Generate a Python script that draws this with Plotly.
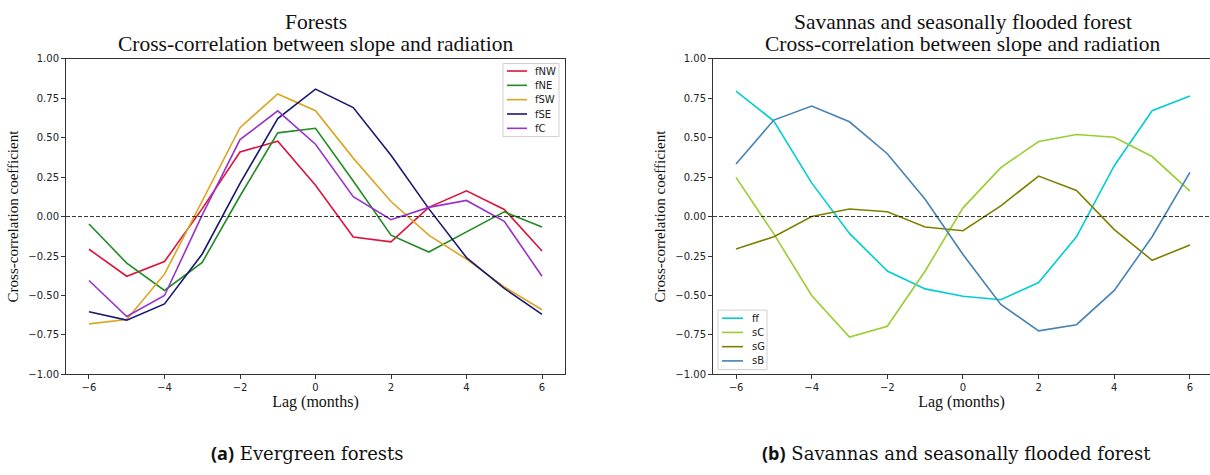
import plotly.graph_objects as go

lags = [-6, -5, -4, -3, -2, -1, 0, 1, 2, 3, 4, 5, 6]

# Forests
fNW = [-0.207, -0.378, -0.285, 0.05, 0.409, 0.477, 0.198, -0.13, -0.16, 0.058, 0.163, 0.045, -0.218]
fNE = [-0.047, -0.295, -0.468, -0.29, 0.13, 0.53, 0.559, 0.225, -0.118, -0.225, -0.097, 0.03, -0.066]
fSW = [-0.68, -0.652, -0.365, 0.1, 0.563, 0.776, 0.67, 0.37, 0.095, -0.118, -0.27, -0.445, -0.59]
fSE = [-0.603, -0.656, -0.553, -0.237, 0.21, 0.62, 0.807, 0.69, 0.388, 0.05, -0.26, -0.455, -0.62]
fC = [-0.405, -0.633, -0.5, 0.01, 0.487, 0.669, 0.458, 0.126, -0.02, 0.058, 0.102, -0.03, -0.378]

# Savannas and seasonally flooded forest
ff = [0.795, 0.605, 0.213, -0.107, -0.345, -0.458, -0.505, -0.527, -0.418, -0.128, 0.322, 0.67, 0.763]
sC = [0.248, -0.11, -0.5, -0.763, -0.695, -0.345, 0.055, 0.31, 0.475, 0.52, 0.502, 0.38, 0.161]
sG = [-0.206, -0.128, 0.0, 0.048, 0.03, -0.066, -0.09, 0.068, 0.256, 0.165, -0.083, -0.277, -0.18]
sB = [0.333, 0.611, 0.7, 0.6, 0.398, 0.11, -0.24, -0.557, -0.724, -0.685, -0.468, -0.128, 0.28]

left_names = ["fNW", "fNE", "fSW", "fSE", "fC"]
left_values = [fNW, fNE, fSW, fSE, fC]
left_colors = ["#DC143C", "#228B22", "#DAA520", "#191970", "#9932CC"]
right_names = ["ff", "sC", "sG", "sB"]
right_values = [ff, sC, sG, sB]
right_colors = ["#00CED1", "#9ACD32", "#808000", "#4682B4"]

yticks = [-1.0, -0.75, -0.5, -0.25, 0.0, 0.25, 0.5, 0.75, 1.0]
ytick_text = ["\u22121.00", "\u22120.75", "\u22120.50", "\u22120.25", "0.00", "0.25", "0.50", "0.75", "1.00"]
xticks = [-6, -4, -2, 0, 2, 4, 6]
xtick_text = ["\u22126", "\u22124", "\u22122", "0", "2", "4", "6"]

W, H = 1210, 475
fig = go.Figure()

for name, vals, col in zip(left_names, left_values, left_colors):
    fig.add_trace(go.Scatter(x=lags, y=vals, mode="lines", name=name, showlegend=False,
                             line=dict(color=col, width=1.6), xaxis="x", yaxis="y"))
for name, vals, col in zip(right_names, right_values, right_colors):
    fig.add_trace(go.Scatter(x=lags, y=vals, mode="lines", name=name, showlegend=False,
                             line=dict(color=col, width=1.6), xaxis="x2", yaxis="y2"))

ydom = [(H - 378) / H, (H - 54) / H]
serif = "Liberation Serif, Times New Roman, serif"
sans = "DejaVu Sans, sans-serif"

common_x = dict(showline=True, linecolor="#333", linewidth=1, ticks="outside", ticklen=4,
                tickcolor="#333", tickvals=xticks, ticktext=xtick_text, showgrid=False, zeroline=False,
                tickfont=dict(family=sans, size=10, color="#222"),
                title=dict(text="Lag (months)", font=dict(family=serif, size=16, color="#111"), standoff=3))
common_y = dict(showline=True, linecolor="#333", linewidth=1, ticks="outside", ticklen=4,
                tickcolor="#333", tickvals=yticks, ticktext=ytick_text, range=[-1, 1], showgrid=False,
                zeroline=False, tickfont=dict(family=sans, size=10, color="#222"),
                title=dict(text="Cross-correlation coefficient", font=dict(family=serif, size=15, color="#111"),
                           standoff=6))

fig.update_layout(
    width=W, height=H, margin=dict(l=0, r=0, t=0, b=0),
    paper_bgcolor="white", plot_bgcolor="white",
    xaxis=dict(domain=[66 / W, 565 / W], range=[-6.609, 6.609], mirror=True, anchor="y", **common_x),
    yaxis=dict(domain=ydom, anchor="x", mirror=True, **common_y),
    xaxis2=dict(domain=[713 / W, 1.0], range=[-6.608, 6.53], mirror=True, anchor="y2", **common_x),
    yaxis2=dict(domain=ydom, anchor="x2", mirror=False, **common_y),
    showlegend=False,
)

# Dashed zero lines
for xr, yr in [("x domain", "y"), ("x2 domain", "y2")]:
    fig.add_shape(type="line", xref=xr, yref=yr, x0=0, x1=1, y0=0, y1=0,
                  line=dict(color="black", width=0.8, dash="4px,2px"))


def px_x(v):
    return v / W


def px_y(v):
    return 1 - v / H


# Manual legends (matplotlib-style compact boxes)
def add_legend(names, colors, box, line_x, text_x, y0, step):
    fig.add_shape(type="rect", xref="paper", yref="paper",
                  x0=px_x(box[0]), x1=px_x(box[1]), y0=px_y(box[2]), y1=px_y(box[3]),
                  line=dict(color="#d0d0d0", width=1), fillcolor="rgba(255,255,255,0.85)", layer="above")
    for i, (n, c) in enumerate(zip(names, colors)):
        yy = y0 + i * step
        fig.add_shape(type="line", xref="paper", yref="paper",
                      x0=px_x(line_x[0]), x1=px_x(line_x[1]), y0=px_y(yy), y1=px_y(yy),
                      line=dict(color=c, width=1.6), layer="above")
        fig.add_annotation(x=px_x(text_x), y=px_y(yy), xref="paper", yref="paper", showarrow=False,
                           text=n, xanchor="left", yanchor="middle",
                           font=dict(family=sans, size=10, color="#222"))


add_legend(left_names, left_colors, (503, 559, 59, 134), (507, 527), 533, 66.7, 14.7)
add_legend(right_names, right_colors, (718, 767, 312, 373), (722, 743), 750, 320.3, 14.6)

# Titles
title_font = dict(family=serif, size=21.5, color="#111")
for cx, l1, l2 in [((66 + 565) / 2, "Forests", "Cross-correlation between slope and radiation"),
                   ((713 + 1213) / 2, "Savannas and seasonally flooded forest",
                    "Cross-correlation between slope and radiation")]:
    fig.add_annotation(x=px_x(cx), y=px_y(16), xref="paper", yref="paper", showarrow=False,
                       text=l1, font=title_font, xanchor="center", yanchor="middle")
    fig.add_annotation(x=px_x(cx), y=px_y(38.5), xref="paper", yref="paper", showarrow=False,
                       text=l2, font=title_font, xanchor="center", yanchor="middle")

# Captions
cap_font = dict(family="DejaVu Serif, serif", size=18, color="#111")
fig.add_annotation(x=px_x(307), y=px_y(459), xref="paper", yref="paper", showarrow=False,
                   text="<b><span style='font-family:Open Sans, sans-serif'>(a)</span></b> Evergreen forests",
                   font=cap_font, xanchor="center", yanchor="middle")
fig.add_annotation(x=px_x(956), y=px_y(459), xref="paper", yref="paper", showarrow=False,
                   text="<b><span style='font-family:Open Sans, sans-serif'>(b)</span></b> Savannas and seasonally flooded forest",
                   font=cap_font, xanchor="center", yanchor="middle")

fig.write_html("out.html")
